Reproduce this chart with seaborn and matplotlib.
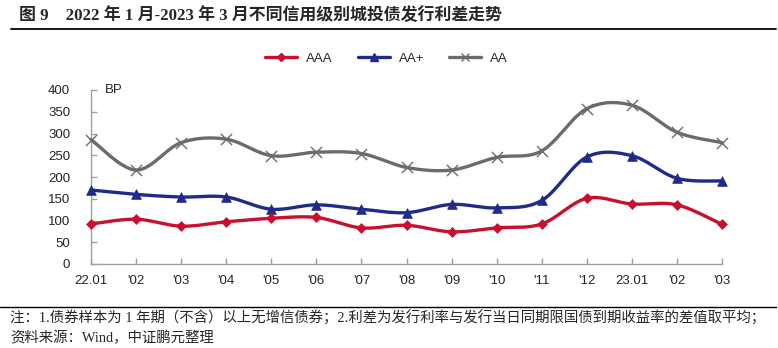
import numpy as np
import pandas as pd
import matplotlib
matplotlib.use("Agg")
import matplotlib.pyplot as plt
from matplotlib.lines import Line2D
import seaborn as sns

categories = ["22.01", "'02", "'03", "'04", "'05", "'06", "'07", "'08", "'09",
              "'10", "'11", "'12", "23.01", "'02", "'03"]
aaa = [92, 103, 87, 97, 105, 107, 83, 89, 74, 83, 92, 151, 138, 136, 91]
aa_plus = [170, 160, 154, 154, 126, 136, 126, 118, 137, 129, 146, 246, 249, 197, 191]
aa = [286, 216, 279, 287, 249, 257, 254, 222, 216, 245, 260, 357, 365, 303, 279]
series_names = ["AAA", "AA+", "AA"]
y_ticks = [0, 50, 100, 150, 200, 250, 300, 350, 400]

title = "图 9    2022 年 1 月-2023 年 3 月不同信用级别城投债发行利差走势"
note1 = "注：1.债券样本为 1 年期（不含）以上无增信债券；2.利差为发行利率与发行当日同期限国债到期收益率的差值取平均；"
note2 = "资料来源：Wind，中证鹏元整理"

sns.set_theme(style="white")
plt.rcParams['font.family'] = ['Liberation Sans', 'Noto Sans CJK SC', 'DejaVu Sans']

colors = {"AAA": "#C8102E", "AA+": "#1F2A8A", "AA": "#6B6B6B"}
markers = {"AAA": "D", "AA+": "^", "AA": "x"}
msizes = {"AAA": 5, "AA+": 7, "AA": 8}


def smooth(y, n=30):
    y = np.asarray(y, dtype=float)
    x = np.arange(len(y), dtype=float)
    pts = np.column_stack([x, y])
    ext = np.vstack([pts[0], pts, pts[-1]])
    out = []
    for i in range(len(pts) - 1):
        p0, p1, p2, p3 = ext[i], ext[i + 1], ext[i + 2], ext[i + 3]
        c1 = p1 + (p2 - p0) / 6.0
        c2 = p2 - (p3 - p1) / 6.0
        t = np.linspace(0, 1, n, endpoint=(i == len(pts) - 2))[:, None]
        b = ((1 - t) ** 3) * p1 + 3 * ((1 - t) ** 2) * t * c1 + 3 * (1 - t) * t ** 2 * c2 + t ** 3 * p2
        out.append(b)
    out = np.vstack(out)
    return out[:, 0], out[:, 1]


fig = plt.figure(figsize=(7.78, 3.48), dpi=100)
ax = fig.add_axes([91 / 778, 1 - 264 / 348, (722 - 91) / 778, (264 - 90) / 348])

data = {"AAA": aaa, "AA+": aa_plus, "AA": aa}
for name in ["AA", "AA+", "AAA"]:
    vals = data[name]
    sx, sy = smooth(vals)
    sdf = pd.DataFrame({"x": sx, "y": sy})
    sns.lineplot(data=sdf, x="x", y="y", ax=ax, color=colors[name], lw=2.4,
                 sort=False, estimator=None, clip_on=False, zorder=3)
    pdf = pd.DataFrame({"x": np.arange(len(vals)), "y": vals})
    if markers[name] == "x":
        sns.scatterplot(data=pdf, x="x", y="y", ax=ax, marker="x", s=msizes[name] ** 2,
                        color=colors[name], linewidth=1.0, clip_on=False, zorder=4)
    else:
        sns.scatterplot(data=pdf, x="x", y="y", ax=ax, marker=markers[name], s=msizes[name] ** 2,
                        color=colors[name], edgecolor=colors[name], linewidth=0.5,
                        clip_on=False, zorder=4)

ax.set_xlim(0, len(categories) - 1)
ax.set_ylim(0, 400)
ax.set_xticks(range(len(categories)))
ax.set_xticklabels(categories)
ax.set_yticks(y_ticks)
ax.set_xlabel("")
ax.set_ylabel("")
for s in ["top", "right"]:
    ax.spines[s].set_visible(False)
for s in ["left", "bottom"]:
    ax.spines[s].set_color("#A0A0A0")
    ax.spines[s].set_linewidth(1.0)
ax.tick_params(axis="both", direction="in", length=4, color="#A0A0A0", width=1.0,
               labelsize=9.5, labelcolor="#222222", left=True, bottom=True)
ax.tick_params(axis="x", pad=8)
ax.tick_params(axis="y", pad=15)
ax.grid(False)
ax.text(0.022, 1.0, "BP", transform=ax.transAxes, fontsize=9.5,
        va="center", ha="left", color="#222222")

handles = [Line2D([0], [0], color=colors[n], lw=2.4, marker=markers[n],
                  markersize=msizes[n] * 0.8, markeredgewidth=1.0) for n in series_names]
fig.legend(handles, series_names, loc="center", bbox_to_anchor=(0.497, 1 - 59 / 348),
           ncol=3, frameon=False, fontsize=9.5, handlelength=2.4, columnspacing=1.9,
           handletextpad=0.7)

fig.text(19 / 778, 1 - 15 / 348, title, fontsize=12.2, fontweight="bold",
         family=['Liberation Serif', 'Noto Sans CJK SC'], va="center", ha="left")
fig.add_artist(Line2D([11 / 778, 776 / 778], [1 - 29 / 348, 1 - 29 / 348],
                      color="black", lw=1.3, transform=fig.transFigure))
fig.add_artist(Line2D([0 / 778, 776 / 778], [1 - 307 / 348, 1 - 307 / 348],
                      color="black", lw=1.0, transform=fig.transFigure))
fig.text(10 / 778, 1 - 318 / 348, note1, fontsize=10.4,
         family=['Liberation Serif', 'Noto Sans CJK SC'], va="center", ha="left")
fig.text(10 / 778, 1 - 338 / 348, note2, fontsize=10.4,
         family=['Liberation Serif', 'Noto Sans CJK SC'], va="center", ha="left")

fig.savefig("out.png", dpi=100)
